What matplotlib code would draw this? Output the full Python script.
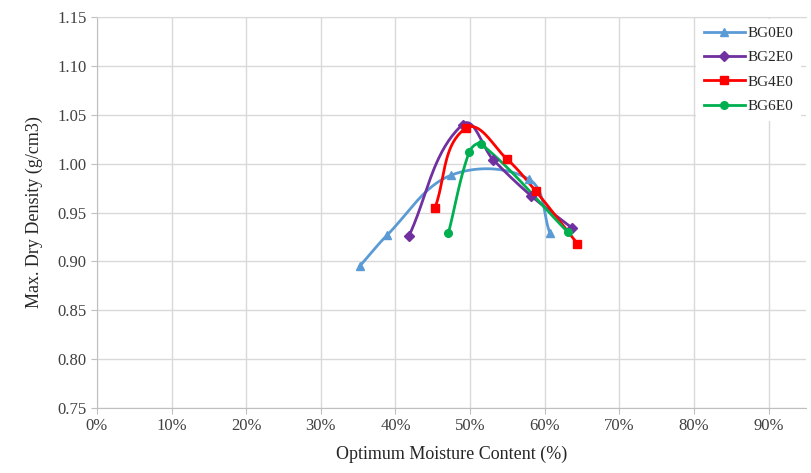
import numpy as np
import matplotlib.pyplot as plt
from matplotlib.ticker import FuncFormatter, MultipleLocator

plt.rcParams['font.family'] = ['Liberation Serif', 'DejaVu Serif']

# dados
x_bg0 = [0.352, 0.389, 0.474, 0.579, 0.607]
y_bg0 = [0.895, 0.927, 0.988, 0.984, 0.929]
x_bg2 = [0.418, 0.490, 0.531, 0.582, 0.637]
y_bg2 = [0.926, 1.040, 1.004, 0.967, 0.934]
x_bg4 = [0.453, 0.494, 0.549, 0.588, 0.644]
y_bg4 = [0.955, 1.036, 1.005, 0.972, 0.918]
x_bg6 = [0.471, 0.499, 0.515, 0.631]
y_bg6 = [0.929, 1.012, 1.020, 0.930]

series = [
    ("BG0E0", x_bg0, y_bg0, "#5B9BD5", "^", 6),
    ("BG2E0", x_bg2, y_bg2, "#7030A0", "D", 5),
    ("BG4E0", x_bg4, y_bg4, "#FF0000", "s", 5.5),
    ("BG6E0", x_bg6, y_bg6, "#00B050", "o", 5.5),
]

# escala aproximada em pixels para a suavizacao
SX, SY = 748.0, 977.5


# curva suave estilo Excel, com tangente limitada pelo tamanho do segmento
def suavizar(xs, ys, n=40):
    p = np.column_stack([np.array(xs) * SX, np.array(ys) * SY])
    tang = []
    for i in range(len(p)):
        a = p[i - 1] if i > 0 else p[i]
        b = p[i + 1] if i + 1 < len(p) else p[i]
        d = b - a
        tang.append(d / np.linalg.norm(d))
    out = []
    for i in range(len(p) - 1):
        p1, p2 = p[i], p[i + 1]
        L = np.linalg.norm(p2 - p1)
        c1 = p1 + tang[i] * L / 3
        c2 = p2 - tang[i + 1] * L / 3
        t = np.linspace(0, 1, n)[:, None]
        seg = ((1 - t) ** 3) * p1 + 3 * ((1 - t) ** 2) * t * c1 + 3 * (1 - t) * t ** 2 * c2 + t ** 3 * p2
        out.append(seg)
    out = np.vstack(out)
    return out[:, 0] / SX, out[:, 1] / SY


fig = plt.figure(figsize=(8.11, 4.73), dpi=100)
ax = fig.add_axes([0.1196, 0.1374, 0.874, 0.8266])

for nome, xs, ys, cor, mk, ms in series:
    sx, sy = suavizar(xs, ys)
    ax.plot(sx, sy, color=cor, lw=2, zorder=3)
    ax.plot(xs, ys, ls='none', marker=mk, color=cor, ms=ms, zorder=4)
    ax.plot([], [], color=cor, lw=2, marker=mk, ms=ms, label=nome)

ax.set_xlim(0, 0.95)
ax.set_ylim(0.75, 1.15)
ax.xaxis.set_major_locator(MultipleLocator(0.1))
ax.yaxis.set_major_locator(MultipleLocator(0.05))
ax.xaxis.set_major_formatter(FuncFormatter(lambda v, p: f"{v*100:.0f}%"))
ax.yaxis.set_major_formatter(FuncFormatter(lambda v, p: f"{v:.2f}"))
ax.grid(True, color='#D9D9D9', lw=1)
ax.set_axisbelow(True)
ax.spines['right'].set_visible(False)
ax.spines['top'].set_color('#D9D9D9')
ax.spines['left'].set_color('#BFBFBF')
ax.spines['bottom'].set_color('#BFBFBF')
ax.tick_params(labelsize=12, colors='#BFBFBF', labelcolor='#404040', length=4)
ax.set_xlabel("Optimum Moisture Content (%)", fontsize=13, color='#262626', labelpad=8)
ax.set_ylabel("Max. Dry Density (g/cm3)", fontsize=13, color='#262626', labelpad=10)

leg = ax.legend(loc='upper right', bbox_to_anchor=(0.995, 1.0), fontsize=11,
                frameon=True, fancybox=False,
                edgecolor='none', facecolor='white', framealpha=1,
                handlelength=2.7, handletextpad=0.15, labelspacing=0.7,
                borderaxespad=0.1, borderpad=0.5)
for t in leg.get_texts():
    t.set_color('#262626')

fig.savefig("out.png", dpi=100)
